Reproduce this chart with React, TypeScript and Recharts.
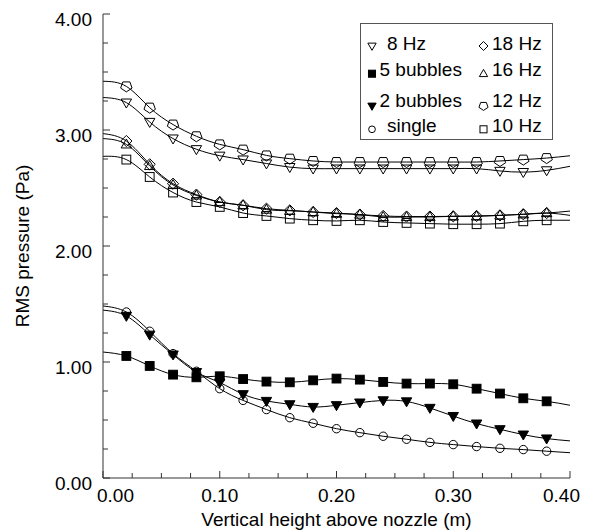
import React from "react";
import { LineChart, Line, XAxis, YAxis, Label } from "recharts";

// x positions (m); first and last rows are where the fitted curves meet the frame (no marker)
const heights = [0, 0.02, 0.04, 0.06, 0.08, 0.1, 0.12, 0.14, 0.16, 0.18, 0.2, 0.22, 0.24, 0.26, 0.28, 0.3, 0.32, 0.34, 0.36, 0.38, 0.4];

const hz12 = [3.42, 3.376, 3.193, 3.047, 2.946, 2.876, 2.831, 2.781, 2.753, 2.733, 2.724, 2.724, 2.724, 2.724, 2.724, 2.724, 2.724, 2.733, 2.745, 2.758, 2.778];
const hz8 = [3.28, 3.236, 3.069, 2.926, 2.834, 2.778, 2.745, 2.711, 2.68, 2.667, 2.667, 2.667, 2.667, 2.667, 2.667, 2.667, 2.667, 2.647, 2.637, 2.652, 2.687];
const hz18 = [2.969, 2.905, 2.704, 2.537, 2.443, 2.379, 2.351, 2.322, 2.307, 2.293, 2.284, 2.271, 2.259, 2.254, 2.254, 2.256, 2.259, 2.264, 2.274, 2.284, 2.301];
const hz16 = [2.926, 2.876, 2.69, 2.526, 2.436, 2.379, 2.351, 2.314, 2.304, 2.293, 2.279, 2.271, 2.25, 2.25, 2.25, 2.256, 2.256, 2.264, 2.273, 2.284, 2.264];
const hz10 = [2.773, 2.745, 2.595, 2.461, 2.379, 2.337, 2.284, 2.259, 2.236, 2.222, 2.216, 2.222, 2.207, 2.199, 2.193, 2.188, 2.188, 2.193, 2.213, 2.222, 2.222];
const bubbles5 = [1.086, 1.052, 0.966, 0.891, 0.868, 0.877, 0.853, 0.831, 0.825, 0.842, 0.857, 0.848, 0.828, 0.814, 0.814, 0.808, 0.77, 0.728, 0.687, 0.661, 0.627];
const bubbles2 = [1.447, 1.397, 1.235, 1.064, 0.913, 0.823, 0.722, 0.664, 0.635, 0.612, 0.627, 0.65, 0.669, 0.66, 0.604, 0.534, 0.469, 0.42, 0.374, 0.34, 0.32];
const single = [1.483, 1.431, 1.265, 1.072, 0.92, 0.77, 0.669, 0.59, 0.52, 0.472, 0.425, 0.391, 0.36, 0.334, 0.307, 0.288, 0.271, 0.256, 0.245, 0.231, 0.218];

const xTicks = [0, 0.025, 0.05, 0.075, 0.1, 0.125, 0.15, 0.175, 0.2, 0.225, 0.25, 0.275, 0.3, 0.325, 0.35, 0.375, 0.4];
const yTicks = [0, 0.25, 0.5, 0.75, 1, 1.25, 1.5, 1.75, 2, 2.25, 2.5, 2.75, 3, 3.25, 3.5, 3.75, 4];

type Kind = "triDown" | "triUp" | "square" | "circle" | "diamond" | "pentagon";

const series: { key: string; name: string; kind: Kind; filled: boolean; values: number[] }[] = [
  { key: "hz8", name: "8 Hz", kind: "triDown", filled: false, values: hz8 },
  { key: "bub5", name: "5 bubbles", kind: "square", filled: true, values: bubbles5 },
  { key: "bub2", name: "2 bubbles", kind: "triDown", filled: true, values: bubbles2 },
  { key: "single", name: "single", kind: "circle", filled: false, values: single },
  { key: "hz18", name: "18 Hz", kind: "diamond", filled: false, values: hz18 },
  { key: "hz16", name: "16 Hz", kind: "triUp", filled: false, values: hz16 },
  { key: "hz12", name: "12 Hz", kind: "pentagon", filled: false, values: hz12 },
  { key: "hz10", name: "10 Hz", kind: "square", filled: false, values: hz10 },
];

const rows = heights.map((x, i) => {
  const row: Record<string, number> = { x };
  series.forEach((s) => (row[s.key] = s.values[i]));
  return row;
});

const FONT = "'Liberation Sans', Arial, Helvetica, sans-serif";
const AXIS = "#333";

function Marker({ kind, filled, cx, cy, k = 1 }: { kind: Kind; filled: boolean; cx: number; cy: number; k?: number }) {
  const fill = filled ? "#000" : "none";
  const common = { fill, stroke: "#000", strokeWidth: 1 };
  if (kind === "circle") return <circle cx={cx} cy={cy} r={4.2 * k} {...common} />;
  if (kind === "square") {
    const h = 4.4 * k;
    return <rect x={cx - h} y={cy - h} width={2 * h} height={2 * h} {...common} />;
  }
  if (kind === "diamond") {
    const h = 5.6 * k;
    return <path d={`M${cx},${cy - h}L${cx + h},${cy}L${cx},${cy + h}L${cx - h},${cy}Z`} {...common} />;
  }
  if (kind === "triDown") {
    const w = 5.2 * k;
    return <path d={`M${cx - w},${cy - 3.6 * k}L${cx + w},${cy - 3.6 * k}L${cx},${cy + 5.4 * k}Z`} {...common} />;
  }
  if (kind === "triUp") {
    const w = 5.2 * k;
    return <path d={`M${cx - w},${cy + 3.6 * k}L${cx + w},${cy + 3.6 * k}L${cx},${cy - 5.4 * k}Z`} {...common} />;
  }
  const r = 6 * k;
  const pts = [90, 162, 234, 306, 18]
    .map((a) => `${cx + r * Math.cos((a * Math.PI) / 180)},${cy + r * Math.sin((a * Math.PI) / 180) * 0.92}`)
    .join(" ");
  return <polygon points={pts} {...common} />;
}

const isMajor = (v: number, step: number) => Math.abs(v / step - Math.round(v / step)) < 1e-6;

function BottomTick(p: any) {
  const v = p.payload.value as number;
  const major = isMajor(v, 0.1);
  const last = p.index === xTicks.length - 1;
  const first = p.index === 0;
  return (
    <g>
      <line x1={p.x} x2={p.x} y1={p.y} y2={p.y - (major ? 7 : 5)} stroke={AXIS} />
      {major && (
        <text
          x={first ? p.x - 6 : last ? p.x + 10 : p.x}
          y={p.y + 24}
          textAnchor={first ? "start" : last ? "end" : "middle"}
          fontFamily={FONT}
          fontSize={19}
          fill="#000"
        >
          {v.toFixed(2)}
        </text>
      )}
    </g>
  );
}

function TopTick(p: any) {
  const major = isMajor(p.payload.value, 0.1);
  return <line x1={p.x} x2={p.x} y1={p.y} y2={p.y + (major ? 7 : 4)} stroke={AXIS} />;
}

function LeftTick(p: any) {
  const v = p.payload.value as number;
  const major = isMajor(v, 1);
  return (
    <g>
      <line x1={p.x} x2={p.x + (major ? 7 : 5)} y1={p.y} y2={p.y} stroke={AXIS} />
      {major && (
        <text x={p.x - 11} y={p.y + 11.5} textAnchor="end" fontFamily={FONT} fontSize={19} fill="#000">
          {v.toFixed(2)}
        </text>
      )}
    </g>
  );
}

function RightTick(p: any) {
  const major = isMajor(p.payload.value, 1);
  return <line x1={p.x} x2={p.x - (major ? 7 : 5)} y1={p.y} y2={p.y} stroke={AXIS} />;
}

function makeDot(kind: Kind, filled: boolean, key: string) {
  return (p: any) => {
    const { cx, cy, index } = p;
    if (index === 0 || index === heights.length - 1 || cx == null || cy == null) return <g key={`${key}-${index}`} />;
    return (
      <g key={`${key}-${index}`}>
        <Marker kind={kind} filled={filled} cx={cx} cy={cy} />
      </g>
    );
  };
}

const legendLeft = ["hz8", "bub5", "bub2", "single"];
const legendRight = ["hz18", "hz16", "hz12", "hz10"];
const legendRowsMarker = [22, 49.7, 82, 105.3];
const legendRowsText = [25.5, 52, 83, 108];

function LegendBox() {
  const find = (k: string) => series.find((s) => s.key === k)!;
  return (
    <div
      style={{
        position: "absolute",
        left: 360,
        top: 23,
        width: 193,
        height: 117,
        border: "1px solid #555",
        boxSizing: "border-box",
        background: "#fff",
      }}
    >
      <svg width={191} height={115} style={{ display: "block" }}>
        {legendLeft.map((k, i) => {
          const s = find(k);
          const wide = s.name.includes("bubbles");
          return (
            <g key={k}>
              <Marker kind={s.kind} filled={s.filled} cx={11} cy={legendRowsMarker[i]} k={0.8} />
              <text x={wide ? 18.5 : 26} y={legendRowsText[i]} fontFamily={FONT} fontSize={19} fill="#000">
                {s.name}
              </text>
            </g>
          );
        })}
        {legendRight.map((k, i) => {
          const s = find(k);
          return (
            <g key={k}>
              <Marker kind={s.kind} filled={s.filled} cx={122.5} cy={legendRowsMarker[i]} k={0.8} />
              <text x={131} y={legendRowsText[i]} fontFamily={FONT} fontSize={19} fill="#000">
                {s.name}
              </text>
            </g>
          );
        })}
      </svg>
    </div>
  );
}

export default function App() {
  return (
    <div style={{ position: "absolute", left: 0, top: 0, width: 590, height: 532, background: "#fff" }}>
      <LineChart width={590} height={532} data={rows} margin={{ top: 14, right: 20, bottom: 5, left: 0 }}>
        <XAxis
          xAxisId="b"
          dataKey="x"
          type="number"
          domain={[0, 0.4]}
          ticks={xTicks}
          interval={0}
          height={49}
          tickSize={0}
          tickMargin={0}
          tickLine={false}
          tick={(p: any) => <BottomTick {...p} />}
          stroke={AXIS}
        >
          <Label
            content={(lp: any) => {
              const vb = lp.viewBox;
              return (
                <text x={vb.x + vb.width / 2} y={vb.y + 48} textAnchor="middle" fontFamily={FONT} fontSize={19} fill="#000">
                  Vertical height above nozzle (m)
                </text>
              );
            }}
          />
        </XAxis>
        <XAxis
          xAxisId="t"
          orientation="top"
          dataKey="x"
          type="number"
          domain={[0, 0.4]}
          ticks={xTicks}
          interval={0}
          height={0}
          tickSize={0}
          tickMargin={0}
          tickLine={false}
          tick={(p: any) => <TopTick {...p} />}
          stroke={AXIS}
        />
        <YAxis
          yAxisId="l"
          type="number"
          domain={[0, 4]}
          ticks={yTicks}
          interval={0}
          width={103}
          tickSize={0}
          tickMargin={0}
          tickLine={false}
          tick={(p: any) => <LeftTick {...p} />}
          stroke={AXIS}
        >
          <Label
            content={(lp: any) => {
              const vb = lp.viewBox;
              const cy = vb.y + vb.height / 2;
              return (
                <text
                  x={29}
                  y={cy}
                  transform={`rotate(-90 29 ${cy})`}
                  textAnchor="middle"
                  fontFamily={FONT}
                  fontSize={19}
                  fill="#000"
                >
                  RMS pressure (Pa)
                </text>
              );
            }}
          />
        </YAxis>
        <YAxis
          yAxisId="r"
          orientation="right"
          type="number"
          domain={[0, 4]}
          ticks={yTicks}
          interval={0}
          width={0}
          tickSize={0}
          tickMargin={0}
          tickLine={false}
          tick={(p: any) => <RightTick {...p} />}
          stroke={AXIS}
        />
        {series.map((s) => (
          <Line
            key={s.key}
            xAxisId="b"
            yAxisId="l"
            dataKey={s.key}
            name={s.name}
            type="natural"
            stroke="#000"
            strokeWidth={1}
            dot={makeDot(s.kind, s.filled, s.key)}
            activeDot={false}
            isAnimationActive={false}
          />
        ))}
      </LineChart>
      <LegendBox />
    </div>
  );
}
